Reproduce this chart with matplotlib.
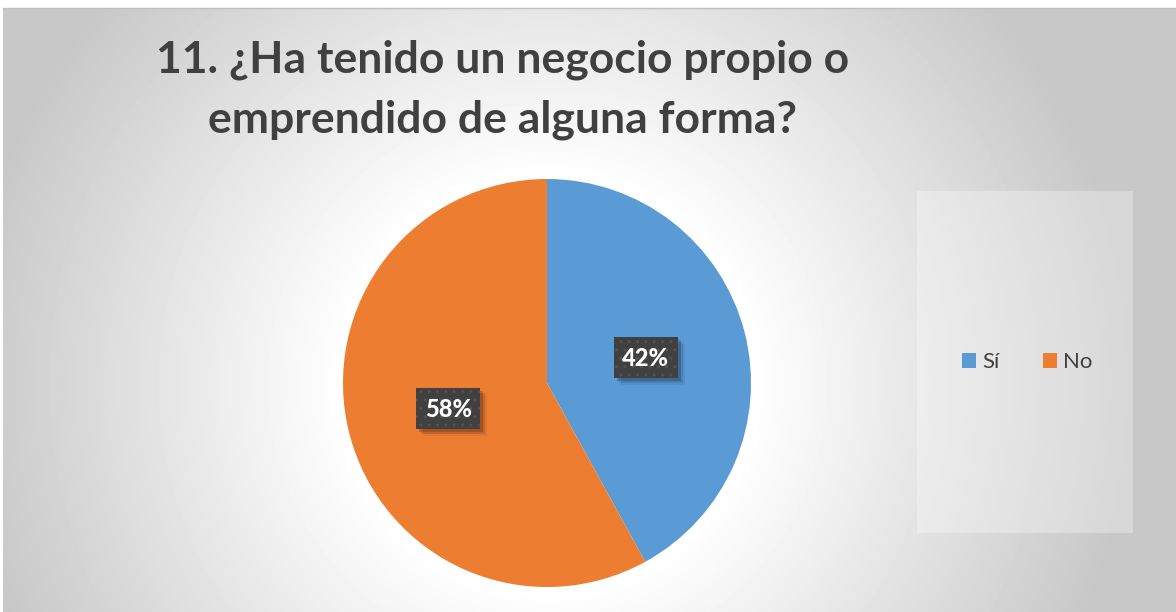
import numpy as np
import matplotlib.pyplot as plt
from matplotlib.patches import Rectangle

# Data
labels = ["Sí", "No"]
values = [42, 58]
colors = ["#5B9BD5", "#ED7D31"]
title = "11. ¿Ha tenido un negocio propio o\nemprendido de alguna forma?"

W, H = 1176, 612
fig = plt.figure(figsize=(W / 100, H / 100), dpi=100)
fig.patch.set_facecolor("white")

# radial gray background (chart area)
x0, y0 = 3, 8
bg = fig.add_axes([x0 / W, 0, (W - x0) / W, (H - y0) / H])
xx, yy = np.meshgrid(np.arange(x0, W), np.arange(y0, H))
d = np.hypot(xx - 547, yy - 383)
t = np.clip((d - 205) / (580 - 205), 0, 1)
g = 1.0 - t * (1.0 - 0.785)
bg.imshow(g, cmap="gray", vmin=0, vmax=1, aspect="auto", interpolation="bilinear")
bg.axis("off")
fig.add_artist(plt.Line2D([x0 / W, 1], [1 - y0 / H, 1 - y0 / H], color="#bfbfbf", lw=1))

# pie
cx, cy, r = 547, 383, 204
ax = fig.add_axes([(cx - r) / W, (H - cy - r) / H, 2 * r / W, 2 * r / H])
wedges, _ = ax.pie(values, colors=colors, startangle=90, counterclock=False,
                   radius=1, wedgeprops=dict(linewidth=0))
ax.set_xlim(-1, 1)
ax.set_ylim(-1, 1)
ax.set_aspect("auto")
ax.axis("off")

# data labels with dark boxes
bw, bh = 64 / r, 41 / r
for w, v in zip(wedges, values):
    mid = np.deg2rad((w.theta1 + w.theta2) / 2)
    lx, ly = 0.5 * np.cos(mid), 0.5 * np.sin(mid)
    for k, a in [(3, 0.18), (5, 0.12), (7, 0.06)]:
        ax.add_patch(Rectangle((lx - bw / 2 + k / r, ly - bh / 2 - k / r), bw, bh,
                               facecolor="#000000", alpha=a, lw=0, zorder=3))
    ax.add_patch(Rectangle((lx - bw / 2, ly - bh / 2), bw, bh, facecolor="#404040",
                           edgecolor="#525252", hatch="..", lw=0, zorder=4))
    ax.text(lx, ly - 1 / r, f"{v}%", ha="center", va="center", color="white",
            fontsize=17, fontweight=900, family="Lato", zorder=5)

# title
fig.text(503 / W, 1 - 90 / H, title, ha="center", va="center", fontsize=32,
         fontweight="bold", color="#404040", family="Lato", linespacing=1.6)

# legend
fig.add_artist(Rectangle((917 / W, 1 - 533 / H), 216 / W, 342 / H,
                         transform=fig.transFigure, facecolor="white", alpha=0.3, lw=0))
leg = fig.legend(wedges, labels, loc="center", bbox_to_anchor=(1027 / W, 1 - 362 / H),
                 ncol=2, frameon=False, handlelength=0.65, handleheight=0.65,
                 handletextpad=0.25, columnspacing=1.95,
                 prop=dict(family="Lato", size=16))
for txt in leg.get_texts():
    txt.set_color("#404040")

fig.savefig("out.png", dpi=100)
